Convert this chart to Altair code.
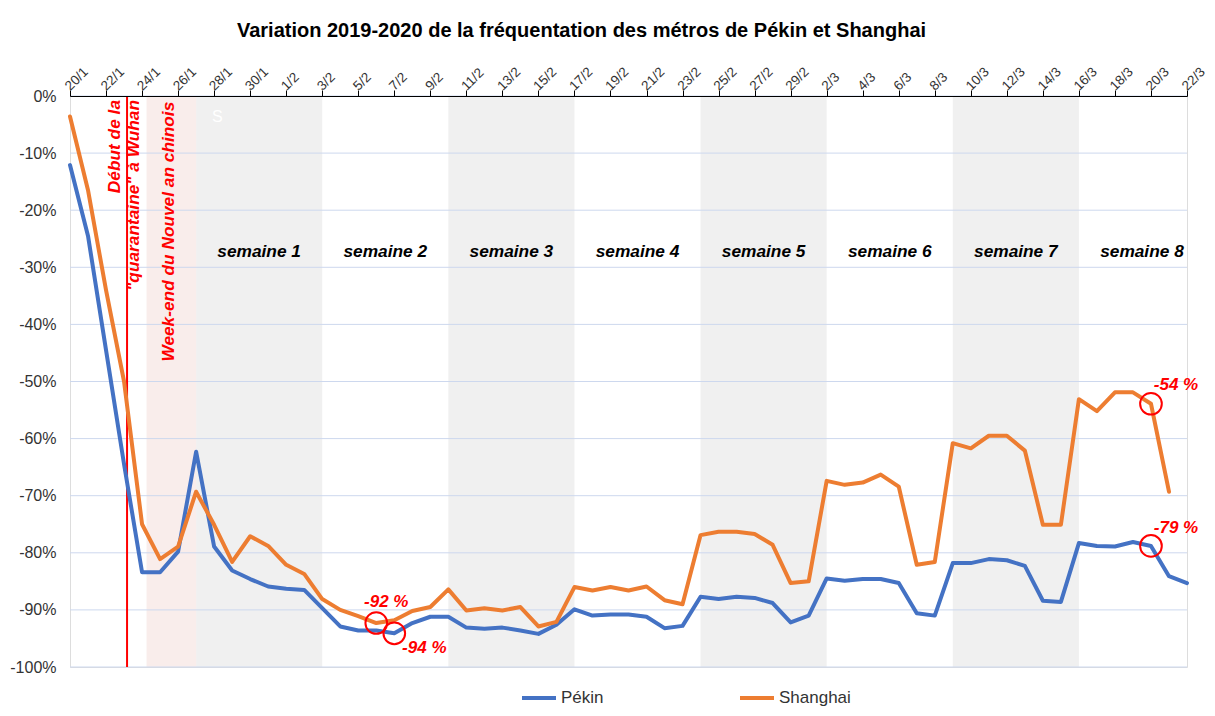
import altair as alt
import pandas as pd

# ---------------- data ----------------
dates = [d.strftime("%Y-%m-%dT00:00:00Z") for d in pd.date_range("2020-01-20", "2020-03-22")]

pekin = [
    -12.1, -24.5, -44.5, -64.5, -83.4, -83.4, -79.8, -62.3, -78.9, -83.1, -84.6, -85.9,
    -86.3, -86.5, -89.7, -92.9, -93.6, -93.6, -94.1, -92.3, -91.2, -91.2, -93.1, -93.3,
    -93.1, -93.6, -94.2, -92.6, -89.9, -91.0, -90.8, -90.8, -91.2, -93.2, -92.8, -87.7,
    -88.1, -87.7, -87.9, -88.8, -92.2,
    -91.0, -84.5, -84.9, -84.6, -84.6, -85.3, -90.6, -91.0, -81.8, -81.8, -81.1, -81.3,
    -82.3, -88.4, -88.6, -78.3, -78.8, -78.9, -78.1, -78.8, -84.1, -85.3,
]
shanghai = [
    -3.6, -16.5, -34.0, -50.0, -75.0, -81.1, -78.9, -69.3, -75.1, -81.6, -77.1, -78.8,
    -82.1, -83.7, -88.1, -90.0, -91.1, -92.3, -91.8, -90.2, -89.5, -86.4, -90.1, -89.7,
    -90.1, -89.5, -92.9, -92.1, -86.0, -86.6, -86.0, -86.6, -85.9, -88.3, -89.0, -76.9,
    -76.3, -76.3, -76.7, -78.6, -85.3,
    -85.0, -67.4, -68.1, -67.7, -66.3, -68.4, -82.1, -81.6, -60.8, -61.7, -59.5, -59.5,
    -62.1, -75.1, -75.1, -53.1, -55.2, -51.9, -51.9, -53.9, -69.3, None,
]
series_names = ["Pékin", "Shanghai"]
series_colors = ["#4472C4", "#ED7D31"]

tick_dates = dates[::2]
y_ticks = list(range(-100, 1, 10))

gray_start = ["2020-01-27T00:00:00Z", "2020-02-10T00:00:00Z", "2020-02-24T00:00:00Z", "2020-03-09T00:00:00Z"]
gray_end = ["2020-02-03T00:00:00Z", "2020-02-17T00:00:00Z", "2020-03-02T00:00:00Z", "2020-03-16T00:00:00Z"]
ny_start = ["2020-01-24T06:00:00Z"]
ny_end = ["2020-01-27T00:00:00Z"]

week_names = ["semaine %d" % i for i in range(1, 9)]
week_centers = [(pd.Timestamp("2020-01-27") + pd.Timedelta(days=7 * i + 3.5)).strftime("%Y-%m-%dT%H:%M:%SZ")
                for i in range(8)]
week_label_y = [-27.3] * 8

quarantine_date = ["2020-01-23T04:00:00Z"]

red_texts = ["Début de la", "\"quarantaine\" à Wuhan", "Week-end du Nouvel an chinois"]
red_text_dates = ["2020-01-22T18:30:00Z", "2020-01-23T20:00:00Z", "2020-01-25T18:30:00Z"]
red_text_y = [-0.7, -0.7, -1.0]

annot_series = ["Shanghai", "Pékin", "Shanghai", "Pékin"]
annot_dates = ["2020-02-06T00:00:00Z", "2020-02-07T00:00:00Z", "2020-03-20T00:00:00Z", "2020-03-20T00:00:00Z"]
annot_values = [-92.3, -94.1, -53.9, -78.8]
annot_labels = ["-92 %", "-94 %", "-54 %", "-79 %"]
annot_offsets = [(10, -21), (30, 15), (25, -19), (25, -18)]

# ---------------- frames ----------------
rows = []
for d, p, s in zip(dates, pekin, shanghai):
    rows.append({"date": d, "serie": "Pékin", "value": p})
    if s is not None:
        rows.append({"date": d, "serie": "Shanghai", "value": s})
df = pd.DataFrame(rows)

gray_df = pd.DataFrame({"start": gray_start, "end": gray_end})
ny_df = pd.DataFrame({"start": ny_start, "end": ny_end})
grid_df = pd.DataFrame({"v": y_ticks})
week_df = pd.DataFrame({"date": week_centers, "name": week_names, "y": week_label_y})
q_df = pd.DataFrame({"date": quarantine_date, "top": [0], "bottom": [-100]})
red_df = pd.DataFrame({"date": red_text_dates, "txt": red_texts, "y": red_text_y})
annot_df = pd.DataFrame({"date": annot_dates, "value": annot_values, "label": annot_labels, "serie": annot_series})
s_df = pd.DataFrame({"date": ["2020-01-27T21:00:00Z"], "y": [-3.7], "txt": ["S"]})

FONT = "Liberation Sans"
W, H = 1117, 571

x_scale = alt.Scale(type="utc", domain=[alt.DateTime(year=2020, month=1, date=20, utc=True),
                                        alt.DateTime(year=2020, month=3, date=22, utc=True)],
                    nice=False)
y_scale = alt.Scale(domain=[-100, 0], nice=False)

tick_values = [alt.DateTime(year=int(t[0:4]), month=int(t[5:7]), date=int(t[8:10]), utc=True) for t in tick_dates]

x_axis = alt.Axis(orient="top", values=tick_values, labelExpr="utcFormat(datum.value, '%-d/%-m')",
                  labelAngle=315, labelAlign="left", labelBaseline="middle", labelPadding=2,
                  labelOffset=-3, labelFontSize=13.5, labelColor="#333333", labelFont=FONT, grid=False,
                  tickColor="#000000", tickSize=6, domainColor="#000000", domainWidth=1.2,
                  title=None, zindex=2, labelOverlap=False, labelBound=False, labelFlush=False)
y_axis = alt.Axis(values=y_ticks, labelExpr="datum.value + '%'", grid=False, domain=False, ticks=False,
                  labelPadding=14, labelFontSize=16, labelColor="#333333", labelFont=FONT, title=None,
                  labelOverlap=False)


def X(field):
    return alt.X(field, scale=x_scale, axis=x_axis)


def Y(field):
    return alt.Y(field, scale=y_scale, axis=y_axis)


gray = alt.Chart(gray_df).mark_rect(color="#F0F0F0").encode(x=X("start:T"), x2="end:T")
pink = alt.Chart(ny_df).mark_rect(color="#F9EDEB").encode(x=X("start:T"), x2="end:T")
grid = alt.Chart(grid_df).mark_rule(color="#CDD8EE", strokeWidth=1).encode(y=Y("v:Q"))
s_txt = alt.Chart(s_df).mark_text(color="white", fontSize=16, font=FONT, align="left").encode(
    x=X("date:T"), y=Y("y:Q"), text="txt:N")
weeks = alt.Chart(week_df).mark_text(fontSize=17.3, font=FONT, fontWeight="bold", fontStyle="italic",
                                     color="#000000", baseline="middle").encode(
    x=X("date:T"), y=Y("y:Q"), text="name:N")
qline = alt.Chart(q_df).mark_rule(color="#FF0000", strokeWidth=2).encode(
    x=X("date:T"), y=Y("top:Q"), y2="bottom:Q")
red_txt = alt.Chart(red_df).mark_text(fontSize=17.3, font=FONT, fontWeight="bold", fontStyle="italic",
                                      color="#FF0000", angle=270, align="right", baseline="alphabetic").encode(
    x=X("date:T"), y=Y("y:Q"), text="txt:N")

lines = alt.Chart(df).mark_line(strokeWidth=4, strokeJoin="round", strokeCap="round").encode(
    x=X("date:T"),
    y=Y("value:Q"),
    color=alt.Color("serie:N", scale=alt.Scale(domain=series_names, range=series_colors),
                    legend=alt.Legend(title=None, orient="none", legendX=450, legendY=583,
                                      direction="horizontal", symbolType="stroke", symbolSize=1156,
                                      symbolStrokeWidth=4, labelFontSize=17, labelFont=FONT,
                                      labelColor="#333333", labelOffset=3, columnPadding=128)),
)

circles = alt.Chart(annot_df).mark_point(shape="circle", filled=False, color="#FF0000", size=470,
                                         strokeWidth=2, opacity=1).encode(
    x=X("date:T"), y=Y("value:Q"))

annot_layers = []
for i, (dx, dy) in enumerate(annot_offsets):
    annot_layers.append(
        alt.Chart(annot_df.iloc[[i]]).mark_text(fontSize=17, font=FONT, fontWeight="bold", fontStyle="italic",
                                                color="#FF0000", dx=dx, dy=dy, baseline="middle").encode(
            x=X("date:T"), y=Y("value:Q"), text="label:N"))

chart = alt.layer(gray, pink, grid, s_txt, weeks, qline, red_txt, lines, circles, *annot_layers).properties(
    width=W, height=H,
    autosize=alt.AutoSizeParams(type="none"),
    padding={"left": 62, "top": 88, "right": 20, "bottom": 41},
    title=alt.TitleParams("Variation 2019-2020 de la fréquentation des métros de Pékin et Shanghai",
                          fontSize=20, font=FONT, fontWeight="bold", color="#000000",
                          anchor="middle", dx=-47, offset=23),
).configure_view(stroke=None).configure(background="white")

chart.save("out.html", embed_options={"renderer": "svg", "actions": False})
